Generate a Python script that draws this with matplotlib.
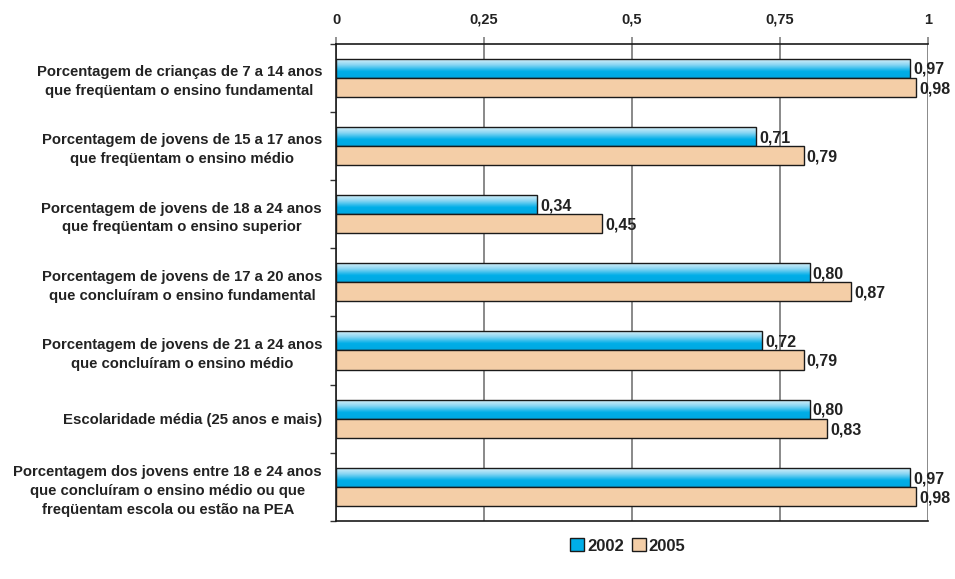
import matplotlib
matplotlib.use('Agg')
import matplotlib.pyplot as plt
from matplotlib.colors import LinearSegmentedColormap
from matplotlib.patches import Patch
import numpy as np

plt.rcParams['font.family'] = ['Liberation Sans', 'DejaVu Sans']
plt.rcParams['font.weight'] = 'bold'

categorias = [
    'Porcentagem de crianças de 7 a 14 anos\nque freqüentam o ensino fundamental',
    'Porcentagem de jovens de 15 a 17 anos\nque freqüentam o ensino médio',
    'Porcentagem de jovens de 18 a 24 anos\nque freqüentam o ensino superior',
    'Porcentagem de jovens de 17 a 20 anos\nque concluíram o ensino fundamental',
    'Porcentagem de jovens de 21 a 24 anos\nque concluíram o ensino médio',
    'Escolaridade média (25 anos e mais)',
    'Porcentagem dos jovens entre 18 e 24 anos\nque concluíram o ensino médio ou que\nfreqüentam escola ou estão na PEA',
]
v2002 = [0.97, 0.71, 0.34, 0.80, 0.72, 0.80, 0.97]
v2005 = [0.98, 0.79, 0.45, 0.87, 0.79, 0.83, 0.98]
xticks = [0, 0.25, 0.5, 0.75, 1]
xlabels = ['0', '0,25', '0,5', '0,75', '1']

txt = '#222222'
azul = '#00aee8'
pessego = '#f4cea7'

fig = plt.figure(figsize=(9.55, 5.79), dpi=100)
ax = fig.add_axes([336/955, 1-521/579, 592/955, (521-43.5)/579])

y = np.arange(len(categorias))
h = 0.28
b1 = ax.barh(y - h/2, v2002, height=h, facecolor='none', edgecolor='#1a1a1a', linewidth=1, zorder=3)
b2 = ax.barh(y + h/2, v2005, height=h, facecolor=pessego, edgecolor='#1a1a1a', linewidth=1, zorder=3)

# gradiente nas barras azuis
cmap = LinearSegmentedColormap.from_list('az', ['#e2f4fb', '#8ad6f3', azul, '#00a8e2'])
grad = np.linspace(0, 1, 64).reshape(-1, 1)
for p in b1.patches:
    x0, y0 = p.get_x(), p.get_y()
    img = ax.imshow(grad, cmap=cmap, aspect='auto', origin='upper',
                    extent=(x0, x0 + p.get_width(), y0 + p.get_height(), y0), zorder=2)
    img.set_clip_path(p)

for i in range(len(categorias)):
    ax.text(v2002[i] + 0.005, y[i] - h/2 + 0.02, f'{v2002[i]:.2f}'.replace('.', ','),
            va='center', ha='left', fontsize=11.5, color=txt, fontweight='bold')
    ax.text(v2005[i] + 0.005, y[i] + h/2 + 0.02, f'{v2005[i]:.2f}'.replace('.', ','),
            va='center', ha='left', fontsize=11.5, color=txt, fontweight='bold')

ax.set_xlim(0, 1)
ax.set_ylim(len(categorias) - 0.5, -0.5)
ax.xaxis.tick_top()
ax.set_xticks(xticks)
ax.set_xticklabels(xlabels, fontsize=10.5, color=txt, fontweight='bold')
ax.tick_params(axis='x', length=5, color='#808080', width=1.2, pad=7)

ax.set_yticks(y)
ax.set_yticklabels(categorias, fontsize=10.7, color=txt, fontweight='bold')
for lb in ax.get_yticklabels():
    lb.set_multialignment('center')
    lb.set_linespacing(1.45)
ax.tick_params(axis='y', which='major', length=0, pad=10)
ax.set_yticks(np.arange(len(categorias) + 1) - 0.5, minor=True)
ax.tick_params(axis='y', which='minor', length=4, color='#333333', width=1)

ax.grid(axis='x', color='#808080', linewidth=1.3)
ax.set_axisbelow(True)
for s in ['top', 'bottom', 'left']:
    ax.spines[s].set_color('#1a1a1a')
    ax.spines[s].set_linewidth(1.2)
ax.spines['right'].set_visible(False)

handles = [Patch(facecolor=azul, edgecolor='#1a1a1a', label='2002'),
           Patch(facecolor=pessego, edgecolor='#1a1a1a', label='2005')]
fig.legend(handles=handles, loc='center', bbox_to_anchor=(628/955, 1-546/579), ncol=2,
           frameon=False, handlelength=0.8, handleheight=0.8, handletextpad=0.2,
           columnspacing=0.5, prop={'size': 12, 'weight': 'bold'}, labelcolor=txt)

fig.savefig('out.png', dpi=100)
